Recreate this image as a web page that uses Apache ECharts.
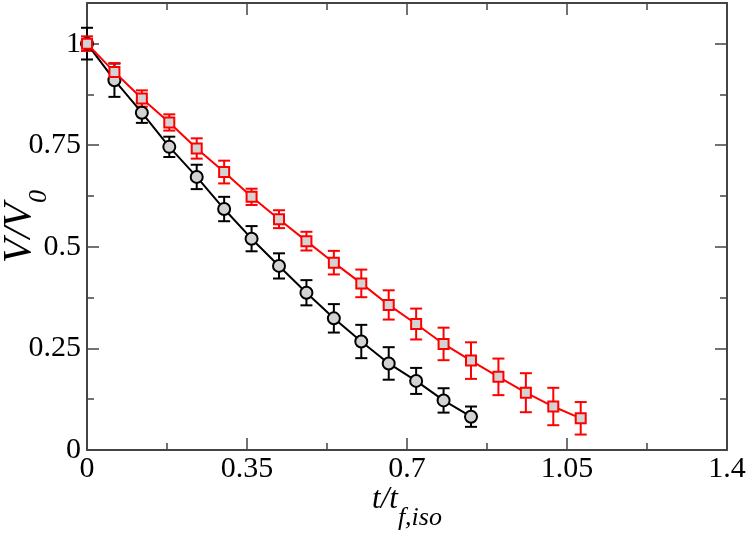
<!DOCTYPE html>
<html>
<head>
<meta charset="utf-8">
<script src="https://cdn.jsdelivr.net/npm/echarts@6/dist/echarts.min.js"></script>
<style>
  html, body { margin: 0; padding: 0; background: #fff; }
  #main { width: 747px; height: 536px; }
</style>
</head>
<body>
<div id="main"></div>
<script>
// data
var xBlack = [0, 0.06, 0.12, 0.18, 0.24, 0.30, 0.36, 0.42, 0.48, 0.54, 0.60, 0.66, 0.72, 0.78, 0.84];
var vBlack = [1.0, 0.910, 0.830, 0.746, 0.672, 0.593, 0.520, 0.453, 0.387, 0.324, 0.267, 0.213, 0.170, 0.122, 0.082];
var errBlack = [0.039, 0.041, 0.025, 0.025, 0.030, 0.030, 0.031, 0.031, 0.031, 0.035, 0.041, 0.040, 0.032, 0.030, 0.025];

var xRed = [0, 0.06, 0.12, 0.18, 0.24, 0.30, 0.36, 0.42, 0.48, 0.54, 0.60, 0.66, 0.72, 0.78, 0.84, 0.90, 0.96, 1.02, 1.08];
var vRed = [1.0, 0.930, 0.865, 0.806, 0.742, 0.684, 0.623, 0.568, 0.514, 0.461, 0.410, 0.357, 0.310, 0.261, 0.220, 0.180, 0.141, 0.107, 0.078];
var errRed = [0.018, 0.022, 0.020, 0.020, 0.025, 0.028, 0.020, 0.022, 0.023, 0.029, 0.034, 0.036, 0.038, 0.040, 0.045, 0.045, 0.048, 0.046, 0.040];

var xTicks = [0, 0.35, 0.7, 1.05, 1.4];
var yTicks = [0, 0.25, 0.5, 0.75, 1];

var serif = 'Liberation Serif';
var frame = '#444';

function pairs(xs, ys) {
  var out = [];
  for (var i = 0; i < xs.length; i++) out.push([xs[i], ys[i]]);
  return out;
}
function bars(xs, ys, es) {
  var out = [];
  for (var i = 0; i < xs.length; i++) out.push([xs[i], ys[i] - es[i], ys[i] + es[i]]);
  return out;
}

// error bars with caps
function errRender(color) {
  return function (params, api) {
    var lo = api.coord([api.value(0), api.value(1)]);
    var hi = api.coord([api.value(0), api.value(2)]);
    var w = 6;
    var st = { stroke: color, lineWidth: 2 };
    return {
      type: 'group',
      children: [
        { type: 'line', shape: { x1: lo[0], y1: lo[1], x2: hi[0], y2: hi[1] }, style: st },
        { type: 'line', shape: { x1: lo[0] - w, y1: lo[1], x2: lo[0] + w, y2: lo[1] }, style: st },
        { type: 'line', shape: { x1: hi[0] - w, y1: hi[1], x2: hi[0] + w, y2: hi[1] }, style: st }
      ]
    };
  };
}

function xAx(pos, labels) {
  return {
    type: 'value', position: pos, min: 0, max: 1.4, interval: 0.35,
    name: labels ? '{a|t/t}{b|f,iso}' : '',
    nameLocation: 'middle', nameGap: 34, nameMoveOverlap: false,
    nameTextStyle: {
      rich: {
        a: { fontFamily: serif, fontStyle: 'italic', fontSize: 31, lineHeight: 34, color: '#000', verticalAlign: 'top' },
        b: { fontFamily: serif, fontStyle: 'italic', fontSize: 26, lineHeight: 26, color: '#000', verticalAlign: 'top', padding: [21, 0, 0, 0] }
      }
    },
    axisLine: { show: true, onZero: false, lineStyle: { color: frame, width: 2 } },
    axisTick: { show: true, inside: true, length: 12, lineStyle: { color: frame, width: 1.5 } },
    minorTick: { show: true, splitNumber: 2, length: 7, lineStyle: { color: frame, width: 1.5 } },
    splitLine: { show: false },
    axisLabel: {
      show: labels, margin: 4, fontFamily: serif, fontSize: 30, color: '#000',
      formatter: function (v) { return xTicks.indexOf(+v.toFixed(2)) >= 0 ? String(+v.toFixed(2)) : ''; }
    }
  };
}

function yAx(pos, step, len, labels, line) {
  return {
    type: 'value', position: pos, min: 0, max: 1.1, interval: step,
    name: labels ? '{a|V/V}{b|0}' : '',
    nameLocation: 'middle', nameRotate: 90, nameGap: 44, nameMoveOverlap: false,
    nameTextStyle: {
      rich: {
        a: { fontFamily: serif, fontStyle: 'italic', fontSize: 40, lineHeight: 44, color: '#000', verticalAlign: 'top' },
        b: { fontFamily: serif, fontStyle: 'italic', fontSize: 26, lineHeight: 26, color: '#000', verticalAlign: 'top', padding: [27, 0, 0, 0] }
      }
    },
    axisLine: { show: line, onZero: false, lineStyle: { color: frame, width: 2 } },
    axisTick: { show: true, inside: true, length: len, lineStyle: { color: frame, width: 1.5 } },
    splitLine: { show: false },
    axisLabel: {
      show: labels, margin: 6, fontFamily: serif, fontSize: 30, color: '#000',
      showMaxLabel: false,
      formatter: function (v) { return yTicks.indexOf(+v.toFixed(2)) >= 0 ? String(+v.toFixed(2)) : ''; }
    }
  };
}

var chart = echarts.init(document.getElementById('main'));
chart.setOption({
  animation: false,
  backgroundColor: '#fff',
  grid: { left: 87, right: 20, top: 3, bottom: 86, containLabel: false, outerBoundsMode: 'none' },
  xAxis: [xAx('bottom', true), xAx('top', false)],
  yAxis: [
    yAx('left', 0.25, 12, true, true),
    yAx('left', 0.125, 7, false, false),
    yAx('right', 0.25, 12, false, true),
    yAx('right', 0.125, 7, false, false)
  ],
  series: [
    {
      type: 'custom', renderItem: errRender('#000'), data: bars(xBlack, vBlack, errBlack),
      encode: { x: 0, y: [1, 2] }, z: 1, silent: true
    },
    {
      type: 'custom', renderItem: errRender('#f00'), data: bars(xRed, vRed, errRed),
      encode: { x: 0, y: [1, 2] }, z: 1, silent: true
    },
    {
      type: 'line', data: pairs(xBlack, vBlack), z: 3,
      symbol: 'circle', symbolSize: 12,
      lineStyle: { color: '#000', width: 2 },
      itemStyle: { color: '#d3d3d3', borderColor: '#000', borderWidth: 2 }
    },
    {
      type: 'line', data: pairs(xRed, vRed), z: 4,
      symbol: 'rect', symbolSize: 10,
      lineStyle: { color: '#f00', width: 2 },
      itemStyle: { color: '#d3d3d3', borderColor: '#f00', borderWidth: 2 }
    }
  ]
});
</script>
</body>
</html>
